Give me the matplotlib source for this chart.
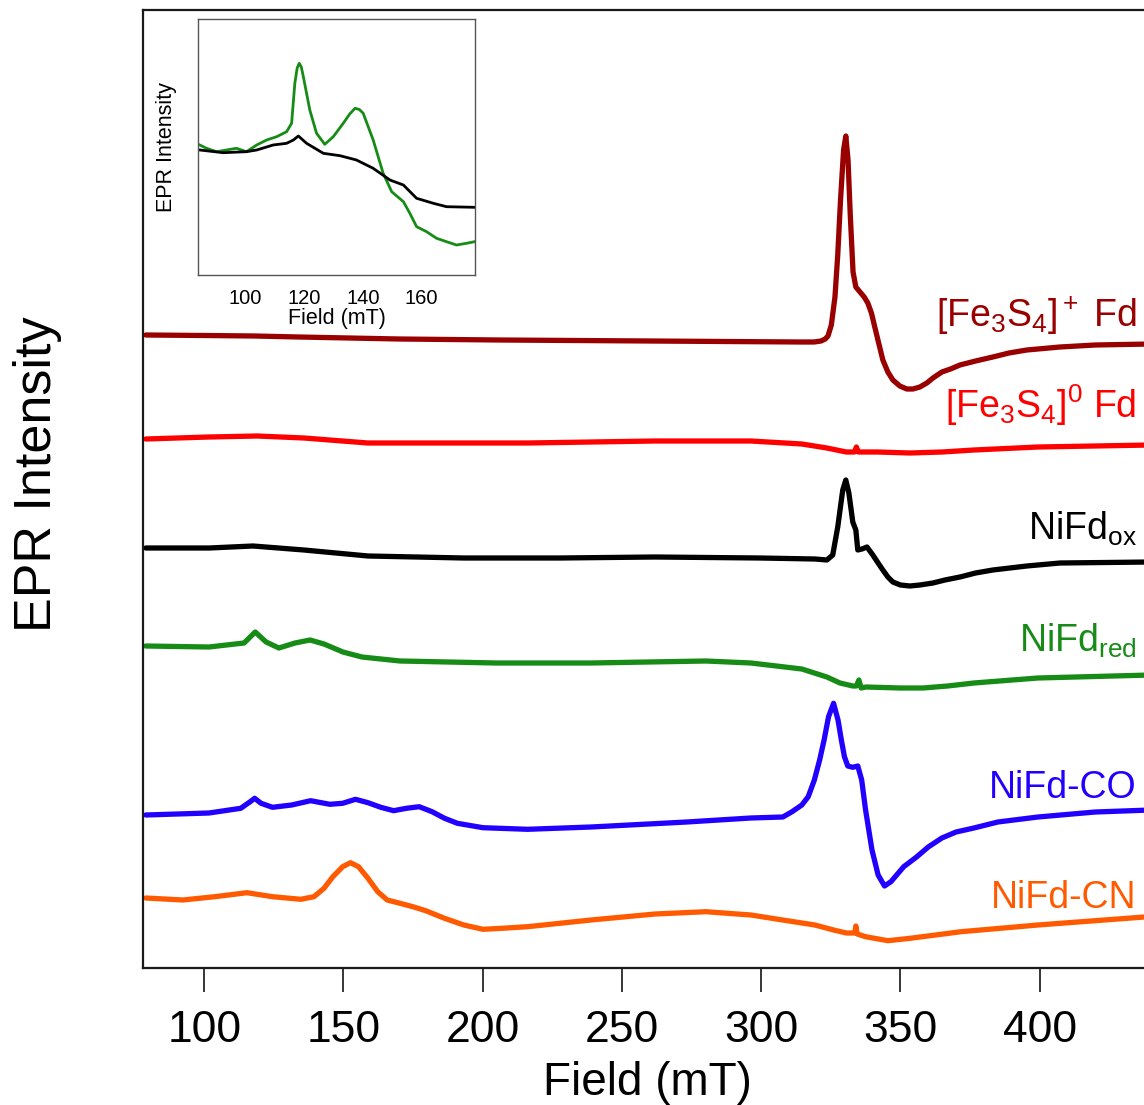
import matplotlib
matplotlib.use("Agg")
import matplotlib.pyplot as plt

plt.rcParams['font.family'] = ['Liberation Sans', 'DejaVu Sans']
plt.rcParams['mathtext.fontset'] = 'custom'
plt.rcParams['mathtext.rm'] = 'Liberation Sans'
plt.rcParams['mathtext.it'] = 'Liberation Sans:italic'
plt.rcParams['mathtext.bf'] = 'Liberation Sans:bold'

# EPR spectra, field in mT, intensity in arbitrary units (stacked)
fe3_plus_field = [79, 100, 118, 134, 170, 206, 260, 314, 319, 321.5, 323, 324.0, 325.2, 326.5,
                  327.5, 328.5, 329.6, 330.4, 331.2, 332.0, 333.0, 334.0, 335.5, 337.0,
                  338.3, 339.6, 340.8, 342.2, 343.7, 345.5, 347.3, 349.8, 352.3, 354.5,
                  357.0, 359.5, 361.7, 364.9, 368, 371.4, 377, 383.2, 389, 395.4, 407.3,
                  420, 440]
fe3_plus_int = [633, 632.5, 632, 631, 629, 628, 627, 626, 626, 627, 629, 632, 643, 671,
                713, 768, 818, 832, 808, 753, 696, 681, 676, 671,
                665, 655, 641, 625, 608, 596, 588, 582, 579, 579,
                581, 585, 590, 596, 599, 603, 607, 611, 615, 618, 621,
                623, 624]

fe3_zero_field = [79, 101.7, 119.0, 135.8, 158.8, 181.8, 216.2, 261.8, 296.3, 314.6, 323.6,
                  330.6, 333.5, 334.2, 334.9, 338, 341.9, 353.4, 365, 376.4, 399.4, 440]
fe3_zero_int = [529, 531, 532, 530, 525, 525, 525, 527, 527, 524, 520,
                516, 516, 521, 516, 516, 516, 515, 516, 518, 521, 523]

ox_field = [79, 101.8, 117.5, 135.8, 158.8, 193.3, 227.7, 261.8, 299.5, 319.3, 323.6, 325.7,
            327.5, 329.3, 330.4, 331.5, 332.9, 334.0, 334.7, 336.2, 338.0, 340.1, 342,
            343.7, 345.5, 347.3, 350, 353.4, 357, 361.7, 366, 371.4, 377, 383.2, 395.4,
            407.3, 440]
ox_int = [420, 420, 422, 418, 412, 410, 410, 411, 410, 409, 408, 413,
          441, 478, 488, 475, 446, 438, 418, 419, 421, 413, 405,
          398, 391, 386, 383, 382, 383, 385, 388, 391, 395, 398, 402,
          405, 406]

red_field = [79, 101.7, 114.3, 118.3, 122.2, 126.8, 132.6, 138.0, 143.0, 149.8, 156.6, 170.3,
             204.8, 238.9, 280.2, 296.3, 314.6, 323.6, 328.3, 332.9, 334.2, 335.1, 335.9,
             337.6, 350, 358.1, 367, 376.4, 399.4, 440]
red_int = [322, 321, 325, 336, 326, 320, 325, 328, 324, 316, 311, 307,
           305, 305, 307, 305, 299, 291, 285, 282, 282, 288, 280,
           281, 280, 280, 282, 285, 290, 293]

co_field = [79, 101.7, 113.1, 116.5, 118.1, 120.4, 124.5, 131.4, 138.2, 145.1, 149.7, 154.3,
            158.8, 163.4, 168.0, 172.6, 177.2, 181.8, 186.3, 190.9, 200.1, 216.1, 238.9,
            273.3, 296.3, 307.8, 311.1, 314.6, 316.9, 319.1, 321.0, 322.6, 324.2, 326.0,
            327.6, 328.8, 329.9, 331.1, 332.9, 334.7, 336.1, 337.5, 339.8, 342.0, 344.3,
            346.6, 351.2, 355.8, 360, 364.9, 370, 376.4, 385, 399.4, 420, 440]
co_int = [153, 155, 159.7, 166.3, 169.7, 164.7, 160.7, 163, 167.3, 163.7, 164.7, 168.7,
          165.3, 160.7, 157.3, 159.7, 161.3, 156.3, 149.7, 144.7, 140.3, 138.7, 141,
          146, 150, 151, 156.3, 163, 171.3, 188, 208, 228, 251.3, 264.7,
          248, 228, 211.3, 202, 200.7, 202, 188, 158, 118, 93, 82,
          86.3, 101.3, 111, 121, 130, 136, 140, 146, 151, 156, 158]

cn_field = [79, 92.3, 103.8, 115.3, 124.5, 134.7, 139.4, 143.0, 146.2, 149.7, 152.5, 155.4,
            158.8, 162.3, 165.7, 170.3, 174.9, 179.5, 186.3, 193.2, 200.1, 206.9, 216.1,
            238.9, 261.9, 280.2, 296.3, 307.7, 319.3, 326.0, 330.6, 333.6, 334.0, 334.5,
            337.5, 345.5, 353.5, 371.8, 399.4, 440]
cn_int = [70, 68, 71.3, 75.3, 71.3, 68.7, 71.3, 79.7, 91.3, 101.3, 105.3, 101.3,
          89.7, 76.3, 68, 64.7, 61.3, 57.3, 49.7, 43, 38.7, 39.7, 41.3,
          48, 54, 56.3, 53, 48, 43, 38, 35, 35, 42, 34,
          31.3, 27.3, 29.7, 36.3, 43, 51.5]

# inset: low-field region
inset_red_field = [84.4, 86.7, 90.1, 93.5, 96.9, 100.3, 103.8, 107.2, 110.6, 114.0, 115.7,
                   116.8, 117.6, 118.3, 119.0, 119.7, 121.9, 124.2, 127.0, 129.9, 133.3,
                   135.5, 137.3, 138.8, 140.1, 143.5, 146.9, 149.8, 153.8, 156.0, 158.3,
                   161.7, 165.1, 168.5, 171.9, 175.3, 178.0]
inset_red_int = [130, 126.7, 123.3, 125, 126.7, 123.3, 130, 135, 138.3, 143.3, 151.7,
                 191.7, 207, 211.7, 208, 198.3, 165, 141.7, 130.7, 138.3, 151.7,
                 161, 166.7, 165.5, 161.7, 135, 101.7, 83.3, 73.3, 61.7, 48.3,
                 43.3, 36.7, 33.3, 30, 31.7, 33.3]
inset_ox_field = [84.4, 92.4, 100.3, 103.8, 109.4, 114.0, 116.3, 118.0, 120.8, 126.5, 132.2,
                  137.8, 143.5, 149.2, 153.8, 158.3, 164.0, 168.5, 178.0]
inset_ox_int = [125, 122.3, 123.3, 125, 130, 131.7, 135, 139, 131.7, 121.7, 119.3,
                115, 106.7, 95, 90, 76.7, 71.7, 68.3, 67.7]

labels = [r'[Fe$_3$S$_4$]$^+$ Fd', r'[Fe$_3$S$_4$]$^0$ Fd', r'NiFd$_{\mathrm{ox}}$',
          r'NiFd$_{\mathrm{red}}$', 'NiFd-CO', 'NiFd-CN']
colors = ['#990000', '#ff0000', '#000000', '#168c16', '#2200ff', '#ff5a00']

fields = [fe3_plus_field, fe3_zero_field, ox_field, red_field, co_field, cn_field]
intensities = [fe3_plus_int, fe3_zero_int, ox_int, red_int, co_int, cn_int]
label_y = [641, 550, 428, 316, 170, 60]

fig = plt.figure(figsize=(11.44, 11.05), dpi=100)
ax = fig.add_axes([143 / 1144, 1 - 968 / 1105, 1008 / 1144, 958 / 1105])

for f, y, c in zip(fields, intensities, colors):
    ax.plot(f, y, color=c, lw=3.8, solid_joinstyle='round', solid_capstyle='round')
for lab, y, c in zip(labels, label_y, colors):
    ax.text(434.9, y, lab, color=c, fontsize=27, ha='right', va='baseline')

ax.set_xlim(78, 440)
ax.set_ylim(0, 958)
ax.set_xticks([100, 150, 200, 250, 300, 350, 400])
ax.set_yticks([])
ax.tick_params(axis='x', direction='out', length=17, width=1.1, labelsize=32, pad=13)
for s in ax.spines.values():
    s.set_linewidth(1.6)
    s.set_color('#1a1a1a')
ax.set_xlabel('Field (mT)', fontsize=33)
ax.xaxis.set_label_coords(0.5, -0.097)
ax.set_ylabel('EPR Intensity', fontsize=37.5)
ax.yaxis.set_label_coords(-0.08, 0.515)

# inset
ins = fig.add_axes([198.3 / 1144, 1 - 275 / 1105, 276.7 / 1144, 255.7 / 1105])
ins.plot(inset_red_field, inset_red_int, color='#168c16', lw=2)
ins.plot(inset_ox_field, inset_ox_int, color='black', lw=2)
ins.set_xlim(83.9, 178.2)
ins.set_ylim(0, 255.7)
ins.set_xticks([100, 120, 140, 160])
ins.set_yticks([])
ins.tick_params(axis='x', length=0, labelsize=14.5, pad=10)
for s in ins.spines.values():
    s.set_linewidth(1)
    s.set_color('#555555')
ins.set_xlabel('Field (mT)', fontsize=15.5, labelpad=0)
ins.set_ylabel('EPR Intensity', fontsize=15.5, labelpad=15)

fig.savefig('out.png', dpi=100)
